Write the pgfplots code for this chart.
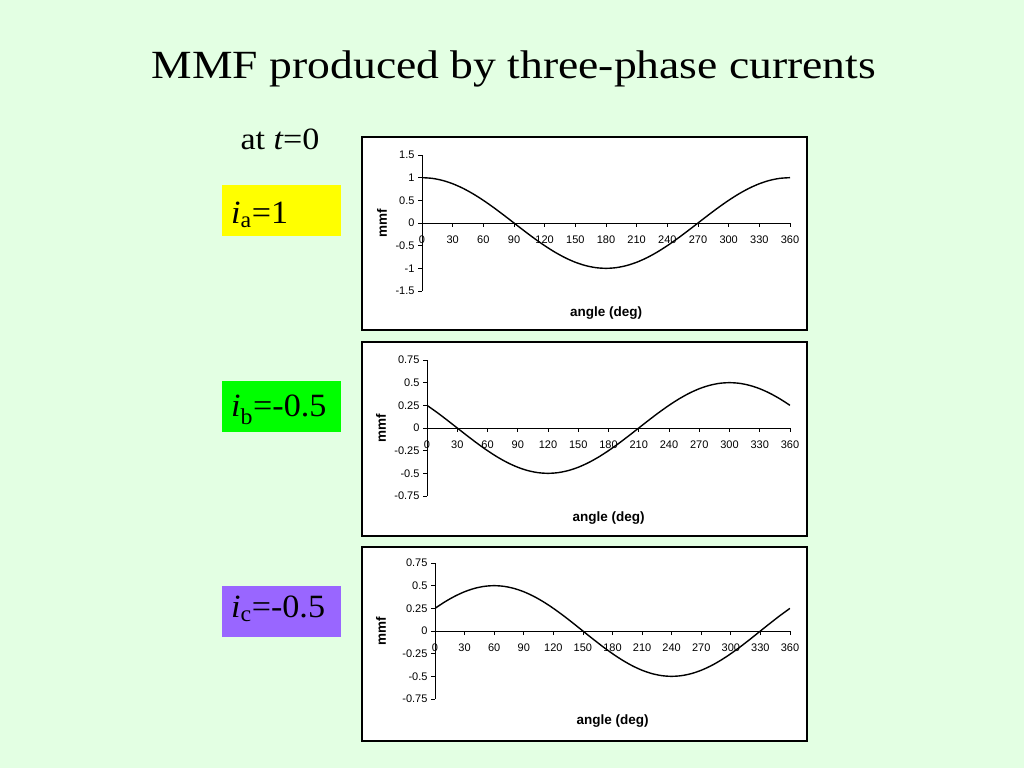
\documentclass[border=0pt]{standalone}
\usepackage{pgfplots}
\usepackage{pgfplotstable}
\pgfplotsset{compat=1.18}
\usepackage{fontspec}
\setmainfont{Liberation Serif}
\newfontfamily\arial{Liberation Sans}
\definecolor{bg}{HTML}{E3FFE3}
\definecolor{ya}{HTML}{FFFF00}
\definecolor{gb}{HTML}{00FF00}
\definecolor{pc}{HTML}{9966FF}

\pgfplotstableread{
ang a b c
0 1 0.25 0.25
10 0.9848 0.171 0.3214
20 0.9397 0.0868 0.383
30 0.866 0 0.433
40 0.766 -0.0868 0.4698
50 0.6428 -0.171 0.4924
60 0.5 -0.25 0.5
70 0.342 -0.3214 0.4924
80 0.1736 -0.383 0.4698
90 0 -0.433 0.433
100 -0.1736 -0.4698 0.383
110 -0.342 -0.4924 0.3214
120 -0.5 -0.5 0.25
130 -0.6428 -0.4924 0.171
140 -0.766 -0.4698 0.0868
150 -0.866 -0.433 0
160 -0.9397 -0.383 -0.0868
170 -0.9848 -0.3214 -0.171
180 -1 -0.25 -0.25
190 -0.9848 -0.171 -0.3214
200 -0.9397 -0.0868 -0.383
210 -0.866 0 -0.433
220 -0.766 0.0868 -0.4698
230 -0.6428 0.171 -0.4924
240 -0.5 0.25 -0.5
250 -0.342 0.3214 -0.4924
260 -0.1736 0.383 -0.4698
270 0 0.433 -0.433
280 0.1736 0.4698 -0.383
290 0.342 0.4924 -0.3214
300 0.5 0.5 -0.25
310 0.6428 0.4924 -0.171
320 0.766 0.4698 -0.0868
330 0.866 0.433 0
340 0.9397 0.383 0.0868
350 0.9848 0.3214 0.171
360 1 0.25 0.25
}\mmfdata

\pgfplotsset{mmfaxis/.style={
  scale only axis,
  axis x line=middle, axis y line=left,
  axis line style={-, line width=0.7pt, black},
  hide obscured x ticks=false, hide obscured y ticks=false,
  xmin=0, xmax=360, xtick={0,30,...,360},
  tick align=outside, major tick length=4pt,
  tick style={black, line width=0.7pt},
  ticklabel style={font=\arial\fontsize{11}{11}\selectfont},
  xticklabel style={yshift=-5.5pt},
  /pgf/number format/assume math mode=true,
  /pgf/number format/1000 sep={},
  xlabel={angle (deg)}, ylabel={mmf},
  xlabel style={font=\arial\bfseries\fontsize{13.5}{14}\selectfont,
     at={(axis description cs:0.5,0)}, anchor=center, yshift=-22pt},
  ylabel style={font=\arial\bfseries\fontsize{13.5}{14}\selectfont,
     anchor=center},
}}

\begin{document}
\begin{tikzpicture}[x=1pt,y=1pt]
\fill[bg] (0,0) rectangle (1024,768);
\useasboundingbox (0,0) rectangle (1024,768);

\node[anchor=base, inner sep=0pt, xscale=1.14, font=\fontsize{40}{44}\selectfont] at (514,689) {MMF produced by three-phase currents};
\node[anchor=base, inner sep=0pt, xscale=1.1, font=\fontsize{31}{34}\selectfont] at (280,618) {at {\itshape t}=0};

\fill[ya] (222,532) rectangle (341,583);
\node[anchor=base west, inner sep=0pt, xscale=1.05, font=\fontsize{32.5}{36}\selectfont] at (231,544) {{\itshape i}\textsubscript{a}=1};
\fill[gb] (222,336) rectangle (341,387);
\node[anchor=base west, inner sep=0pt, xscale=1.05, font=\fontsize{32.5}{36}\selectfont] at (231,351) {{\itshape i}\textsubscript{b}=-0.5};
\fill[pc] (222,131) rectangle (341,182);
\node[anchor=base west, inner sep=0pt, xscale=1.05, font=\fontsize{32.5}{36}\selectfont] at (231,150) {{\itshape i}\textsubscript{c}=-0.5};

\draw[line width=1.2pt, fill=white] (362,438) rectangle (807,631);
\draw[line width=1.2pt, fill=white] (362,232) rectangle (807,426);
\draw[line width=1.2pt, fill=white] (362,27) rectangle (807,221);

\begin{axis}[mmfaxis, at={(422pt,477pt)}, anchor=south west,
  width=368pt, height=136pt, ymin=-1.5, ymax=1.5,
  ytick={-1.5,-1,-0.5,0,0.5,1,1.5},
  ylabel style={at={(axis description cs:-0.109,0.5)}}]
\addplot[black, line width=1.4pt, smooth] table[x=ang, y=a] {\mmfdata};
\end{axis}

\begin{axis}[mmfaxis, at={(427pt,272pt)}, anchor=south west,
  width=363pt, height=136pt, ymin=-0.75, ymax=0.75,
  ytick={-0.75,-0.5,-0.25,0,0.25,0.5,0.75},
  ylabel style={at={(axis description cs:-0.127,0.5)}}]
\addplot[black, line width=1.4pt, smooth] table[x=ang, y=b] {\mmfdata};
\end{axis}

\begin{axis}[mmfaxis, at={(435pt,69pt)}, anchor=south west,
  width=355pt, height=136pt, ymin=-0.75, ymax=0.75,
  ytick={-0.75,-0.5,-0.25,0,0.25,0.5,0.75},
  ylabel style={at={(axis description cs:-0.152,0.5)}}]
\addplot[black, line width=1.4pt, smooth] table[x=ang, y=c] {\mmfdata};
\end{axis}
\end{tikzpicture}
\end{document}
